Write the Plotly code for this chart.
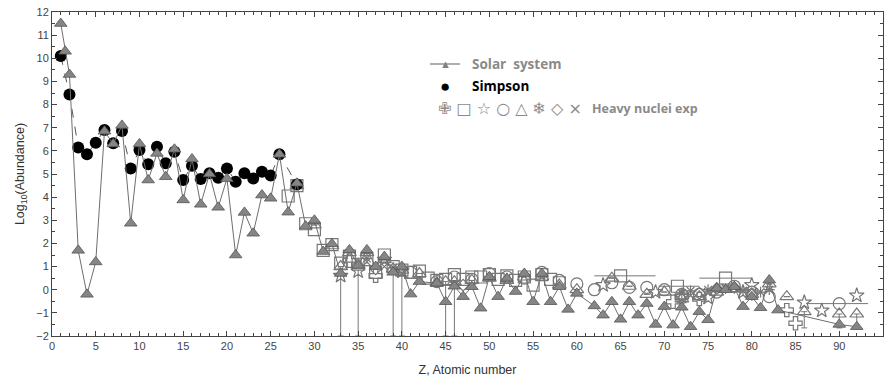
import plotly.graph_objects as go

# ---------------- data ----------------
solar_z = [1, 1.5, 2, 3, 4, 5, 6, 7, 8, 9, 10, 11, 12, 13, 14, 15, 16, 17, 18, 19, 20,
           21, 22, 23, 24, 25, 26, 27, 28, 29, 30, 31, 32, 33, 34, 35, 36, 37, 38, 39, 40,
           41, 42, 44, 45, 46, 47, 48, 49, 50, 51, 52, 53, 54, 55, 56, 57, 58, 59, 60,
           62, 63, 64, 65, 66, 67, 68, 69, 70, 71, 72, 73, 74, 75, 76, 77, 78, 79, 80,
           81, 82, 83, 90, 92]
solar_v = [11.5, 10.3, 9.3, 1.7, -0.2, 1.2, 6.85, 6.3, 7.1, 2.87, 6.3, 4.74, 5.89, 4.88, 6.07,
           3.88, 5.65, 3.69, 5.0, 3.56, 4.8, 1.5, 3.34, 2.44, 4.09, 3.95, 5.85, 3.35, 4.6,
           2.75, 3.0, 1.65, 1.98, 0.7, 1.72, 1.05, 1.72, 1.0, 1.43, 0.75, 1.0,
           -0.19, 0.35, 0.28, -0.52, 0.15, -0.3, 0.13, -0.8, 0.56, -0.3, 0.49, -0.08, 0.7,
           -0.52, 0.7, -0.52, 0.13, -0.85, -0.16, -0.7, -1.1, -0.52, -1.28, -0.52, -1.1,
           -0.6, -1.5, -0.73, -1.53, -0.76, -1.6, -0.95, -1.3, 0.06, 0.0, 0.13, -0.73,
           -0.3, -0.78, 0.42, -0.88, -1.5, -1.6]

simpson_z = [1, 2, 3, 4, 5, 6, 7, 8, 9, 10, 11, 12, 13, 14, 15, 16, 17, 18, 19, 20, 21,
             22, 23, 24, 25, 26, 28]
simpson_v = [10.1, 8.44, 6.15, 5.85, 6.35, 6.9, 6.33, 6.86, 5.24, 6.04, 5.42, 6.18, 5.46,
             5.96, 4.74, 5.36, 4.78, 5.03, 4.84, 5.24, 4.67, 5.03, 4.81, 5.1, 4.93, 5.85, 4.55]

# heavy nuclei experiments
sq_z = [27, 28, 29, 30, 31, 32, 33, 34, 35, 36, 37, 38, 39, 40, 41, 42, 43, 44, 45, 46, 47,
        48, 49, 50, 51, 52, 53, 54, 55, 56, 57, 58, 65, 71.5, 77]
sq_v = [4.05, 4.5, 2.85, 2.6, 1.7, 1.95, 1.15, 1.45, 1.1, 1.3, 0.75, 1.5, 1.0, 0.85, 0.75,
        0.8, 0.5, 0.4, 0.45, 0.65, 0.45, 0.55, 0.55, 0.65, 0.45, 0.6, 0.4, 0.55, 0.2, 0.65,
        0.45, 0.3, 0.6, 0.15, 0.5]
sq_xerr_plus = [0] * 32 + [4.0, 2.5, 3.0]
sq_xerr_minus = [0] * 32 + [3.0, 2.0, 3.0]

ci_z = [41, 44, 46, 48, 50, 52, 54, 56, 58, 60, 62, 64, 66, 68, 70, 72, 74, 76, 78, 80, 82, 90]
ci_v = [0.75, 0.35, 0.55, 0.45, 0.7, 0.55, 0.5, 0.75, 0.4, 0.25, 0.0, 0.3, 0.1, 0.1, 0.0,
        -0.2, -0.2, -0.1, 0.15, -0.1, -0.3, -0.6]
ci_xerr_plus = [0] * 21 + [3.3]
ci_xerr_minus = [0] * 21 + [3.8]

tr_z = [28, 30, 32, 33, 34, 35, 36, 38, 39, 40, 42, 44, 45, 46, 48, 50, 52, 54, 56, 58, 60,
        64, 66, 68, 70, 72, 74, 76, 78, 80, 82, 84, 86, 90, 92]
tr_v = [4.5, 2.8, 1.9, 1.0, 1.6, 1.1, 1.6, 1.3, 0.9, 0.85, 0.7, 0.3, 0.35, 0.35, 0.4, 0.5,
        0.4, 0.55, 0.55, 0.2, 0.0, 0.5, 0.15, -0.2, -0.1, -0.4, -0.3, -0.1, 0.05, -0.2, 0.25,
        -0.3, -0.95, -1.05, -1.05]
tr_yerr_minus = [0, 0, 0, 3.0, 0, 3.1, 0, 0, 2.9, 2.85, 0, 0, 2.35, 2.35, 0, 0, 0, 0, 0,
                 0, 0, 0, 0, 0, 0, 0, 0, 0, 0, 0, 0, 0, 0.7, 0.6, 0.6]

st_z = [33, 35, 38, 40, 63, 69, 72, 75, 79, 80, 86, 88, 92]
st_v = [0.6, 0.8, 1.3, 0.8, 0.2, -0.1, -0.3, -0.35, -0.1, 0.2, -0.55, -0.9, -0.25]

cr_z = [34, 37, 71, 72, 74, 84, 85]
cr_v = [1.25, 0.6, -0.52, -0.3, -0.4, -0.88, -1.45]

sn_z = [36, 39, 72, 73, 75, 77, 79, 81, 82]
sn_v = [1.35, 0.95, -0.15, -0.05, 0.0, 0.05, -0.05, -0.1, 0.0]

di_z = [37, 47, 74, 76, 78, 80]
di_v = [0.9, 0.2, -0.15, 0.05, 0.1, -0.2]

xx_z = [36, 38, 40, 73, 75, 77, 79]
xx_v = [1.2, 1.0, 0.7, -0.25, -0.1, 0.1, -0.05]

x_ticks = list(range(0, 96, 5))
y_ticks = list(range(-2, 13))

# ---------------- figure ----------------
gray = "#777777"
fig = go.Figure()


def heavy(z, v, symbol, size=11, **kw):
    fig.add_trace(go.Scatter(
        x=z, y=v, mode="markers",
        marker=dict(symbol=symbol, size=size, color=gray,
                    line=dict(color=gray, width=1.2)),
        showlegend=False, **kw))


heavy(sq_z, sq_v, "square-open", 12,
      error_x=dict(type="data", symmetric=False, array=sq_xerr_plus,
                   arrayminus=sq_xerr_minus, color=gray, thickness=1, width=0))
heavy(ci_z, ci_v, "circle-open", 12,
      error_x=dict(type="data", symmetric=False, array=ci_xerr_plus,
                   arrayminus=ci_xerr_minus, color=gray, thickness=1, width=0))
heavy(tr_z, tr_v, "triangle-up-open", 12,
      error_y=dict(type="data", symmetric=False, array=[0] * len(tr_z),
                   arrayminus=tr_yerr_minus, color=gray, thickness=1, width=3))
heavy(st_z, st_v, "star-open", 11)
heavy(cr_z, cr_v, "cross-open", 11)
heavy(sn_z, sn_v, "asterisk-open", 9)
heavy(di_z, di_v, "diamond-open", 9)
heavy(xx_z, xx_v, "x-thin-open", 8)

fig.add_trace(go.Scatter(
    x=simpson_z, y=simpson_v, mode="lines+markers",
    line=dict(color="#555555", width=1, dash="dash"),
    marker=dict(symbol="circle", size=12, color="black"),
    showlegend=False))

fig.add_trace(go.Scatter(
    x=solar_z, y=solar_v, mode="lines+markers",
    line=dict(color="#6e6e6e", width=1),
    marker=dict(symbol="triangle-up", size=11, color="#858585",
                line=dict(color="#555555", width=0.8)),
    showlegend=False))

# ---------------- legend (manual) ----------------
L, R, T, B = 52, 6, 12, 51
W, H = 889 - L - R, 387 - T - B


def px(xp):
    return (xp - L) / W


def py(yp):
    return (387 - B - yp) / H


fig.add_shape(type="line", xref="paper", yref="paper", x0=px(430), x1=px(460),
              y0=py(64), y1=py(64), line=dict(color="#777777", width=1.2))
anns = [
    dict(x=px(445), y=py(63), text="▲", font=dict(size=11, color="#808080")),
    dict(x=px(445), y=py(85.5), text="●", font=dict(size=17, color="black")),
    dict(x=px(470), y=py(64), text="<b>Solar  system</b>", xanchor="left",
         font=dict(size=13.5, color="#8a8a8a", family="Open Sans")),
    dict(x=px(470), y=py(86), text="<b>Simpson</b>", xanchor="left",
         font=dict(size=13.5, color="black", family="Open Sans")),
    dict(x=px(436), y=py(108), text="✙ □ ☆ ○ △ ❄ ◇ ×", xanchor="left",
         font=dict(size=16, color="#8a8a8a", family="DejaVu Sans")),
    dict(x=px(590), y=py(108), text="<b>Heavy nuclei exp</b>", xanchor="left",
         font=dict(size=12.5, color="#8a8a8a", family="Open Sans")),
]
for a in anns:
    a.setdefault("xanchor", "center")
    fig.add_annotation(xref="paper", yref="paper", yanchor="middle", showarrow=False, **a)

axis_common = dict(
    showgrid=False, zeroline=False, showline=True, linecolor="#444444", linewidth=1,
    mirror="allticks", ticks="inside", ticklen=5, tickcolor="#444444", tickwidth=1,
    tickfont=dict(family="Liberation Sans, Arial", size=11, color="#444444"),
)
fig.update_xaxes(range=[0, 95], tickvals=x_ticks,
                 minor=dict(dtick=1, ticks="inside", ticklen=3, tickcolor="#444444"),
                 title=dict(text="Z, Atomic number", standoff=14,
                            font=dict(family="Liberation Sans, Arial", size=12.5,
                                      color="#333333")),
                 **axis_common)
fig.update_yaxes(range=[-2, 12], tickvals=y_ticks,
                 minor=dict(dtick=0.5, ticks="inside", ticklen=3, tickcolor="#444444"),
                 title=dict(text="Log<sub>10</sub>(Abundance)", standoff=8,
                            font=dict(family="Liberation Sans, Arial", size=12.5,
                                      color="#333333")),
                 **axis_common)

fig.update_layout(
    width=889, height=387,
    margin=dict(l=L, r=R, t=T, b=B),
    paper_bgcolor="white", plot_bgcolor="white",
    showlegend=False,
)

fig.write_html("out.html")
